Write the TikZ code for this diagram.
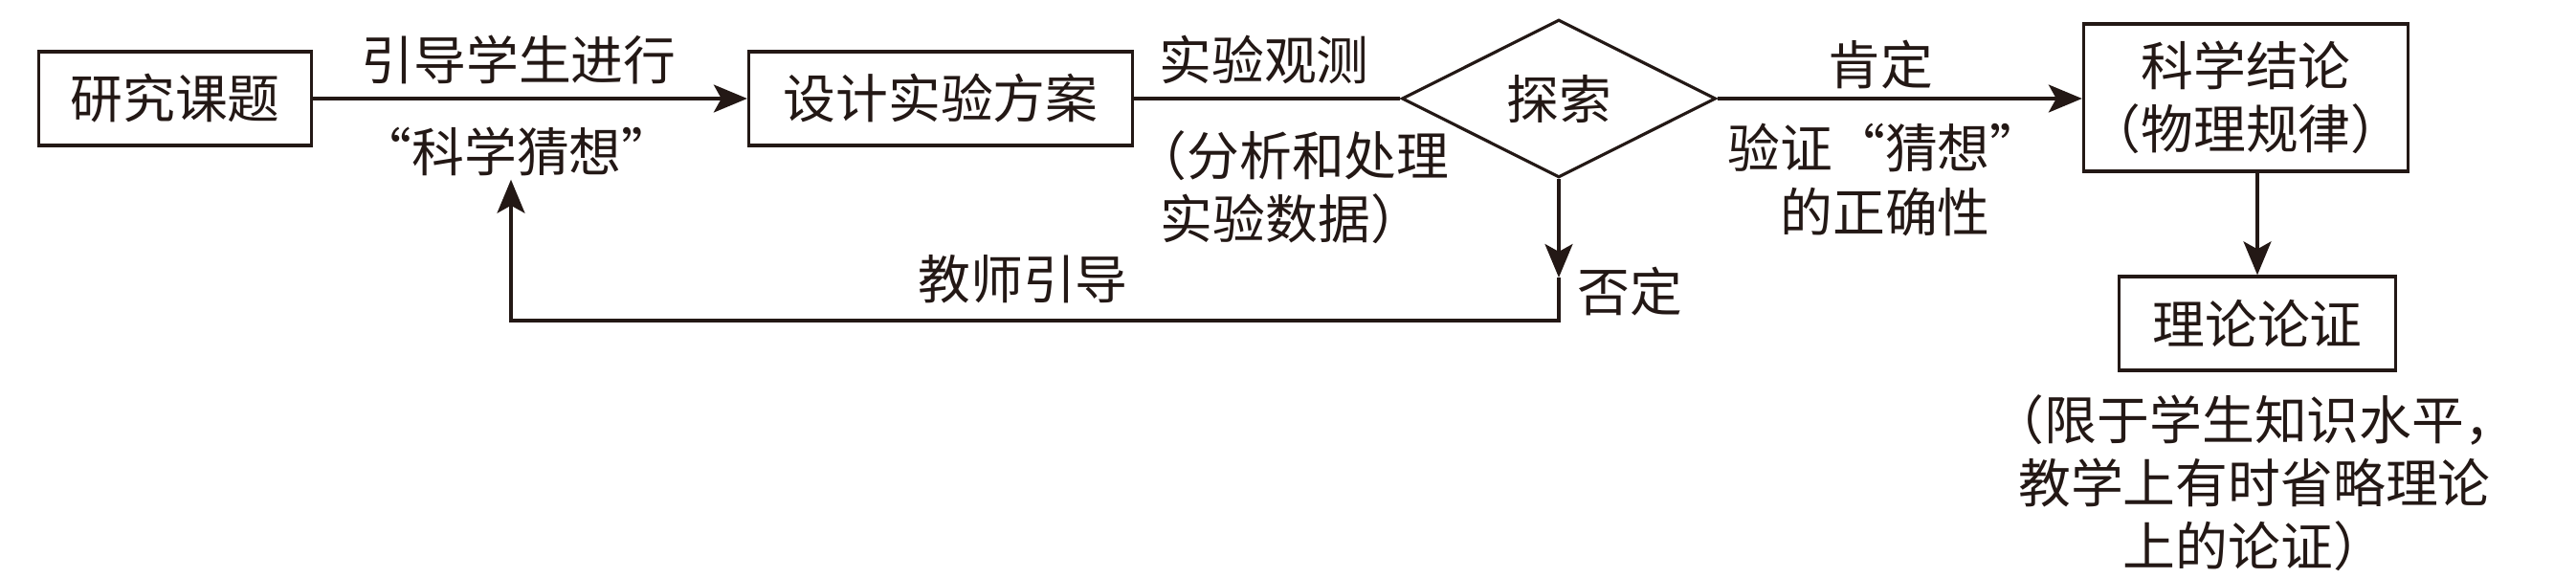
\documentclass[tikz,border=0pt]{standalone}
\usepackage{fontspec}
\setmainfont{Noto Sans CJK SC}
\usepackage{xcolor}
\usepackage{tikz}
\usetikzlibrary{shapes.geometric,arrows.meta}

\definecolor{ink}{RGB}{35,24,21}

\tikzset{
  box/.style={draw=ink, text=ink, line width=0.95pt, minimum height=0.98cm, inner sep=0pt},
  tag/.style={text=ink, inner sep=1pt, align=center},
  link/.style={draw=ink, line width=0.9pt},
  arr/.style={link, -{Stealth[length=3.5mm,width=2.9mm,inset=0.8mm]}},
}

\begin{document}
\begin{tikzpicture}[font=\fontsize{15.6}{18.8}\selectfont]
  \useasboundingbox (0,0) rectangle (26.92,-6.03);

  % --- Main row ---
  \node[box, minimum width=2.85cm] (topic) at (1.83,-1.03) {研究课题};
  \node[box, minimum width=4.01cm] (design) at (9.83,-1.03) {设计实验方案};
  \node[draw=ink, text=ink, line width=0.9pt, shape=diamond, inner sep=0pt,
        minimum width=3.28cm, minimum height=1.65cm] (explore) at (16.29,-1.03) {探索};
  \node[box, minimum width=3.39cm, minimum height=1.54cm, align=center]
    (result) at (23.47,-1.02) {科学结论\\（物理规律）};
  \node[box, minimum width=2.89cm] (proof) at (23.59,-3.38) {理论论证};

  % Labels on the connectors
  \node[tag] (lead) at (5.42,-0.62) {引导学生进行};
  \node[tag] (guess) at (5.40,-1.58) {“科学猜想”};
  \node[tag] (observe) at (13.21,-0.62) {实验观测};
  \node[tag] (analyse) at (13.50,-1.96) {（分析和处理\\实验数据）};
  \node[tag] (affirm) at (19.65,-0.68) {肯定};
  \node[tag] (verify) at (19.70,-1.88) {验证“猜想”\\的正确性};
  \node[tag] (deny) at (17.03,-3.05) {否定};
  \node[tag] (teacher) at (10.69,-2.92) {教师引导};
  \node[tag] (note) at (23.56,-5.05) {（限于学生知识水平，\\教学上有时省略理论\\上的论证）};

  % --- Connectors ---
  \draw[arr] (topic.east) -- (design.west);
  \draw[link] (design.east) -- (explore.west);
  \draw[arr] (explore.east) -- (explore.east -| result.west);
  \draw[arr] (proof.north |- result.south) -- (proof.north);

  % Back loop (negative result)
  \coordinate (mid) at (16.29,-2.90);
  \coordinate (turn) at (16.29,-3.35);
  \draw[arr] (explore.south) -- (mid);
  \draw[arr] (mid) -- (turn) -| ([xshift=-0.06cm]guess.south);
\end{tikzpicture}
\end{document}
